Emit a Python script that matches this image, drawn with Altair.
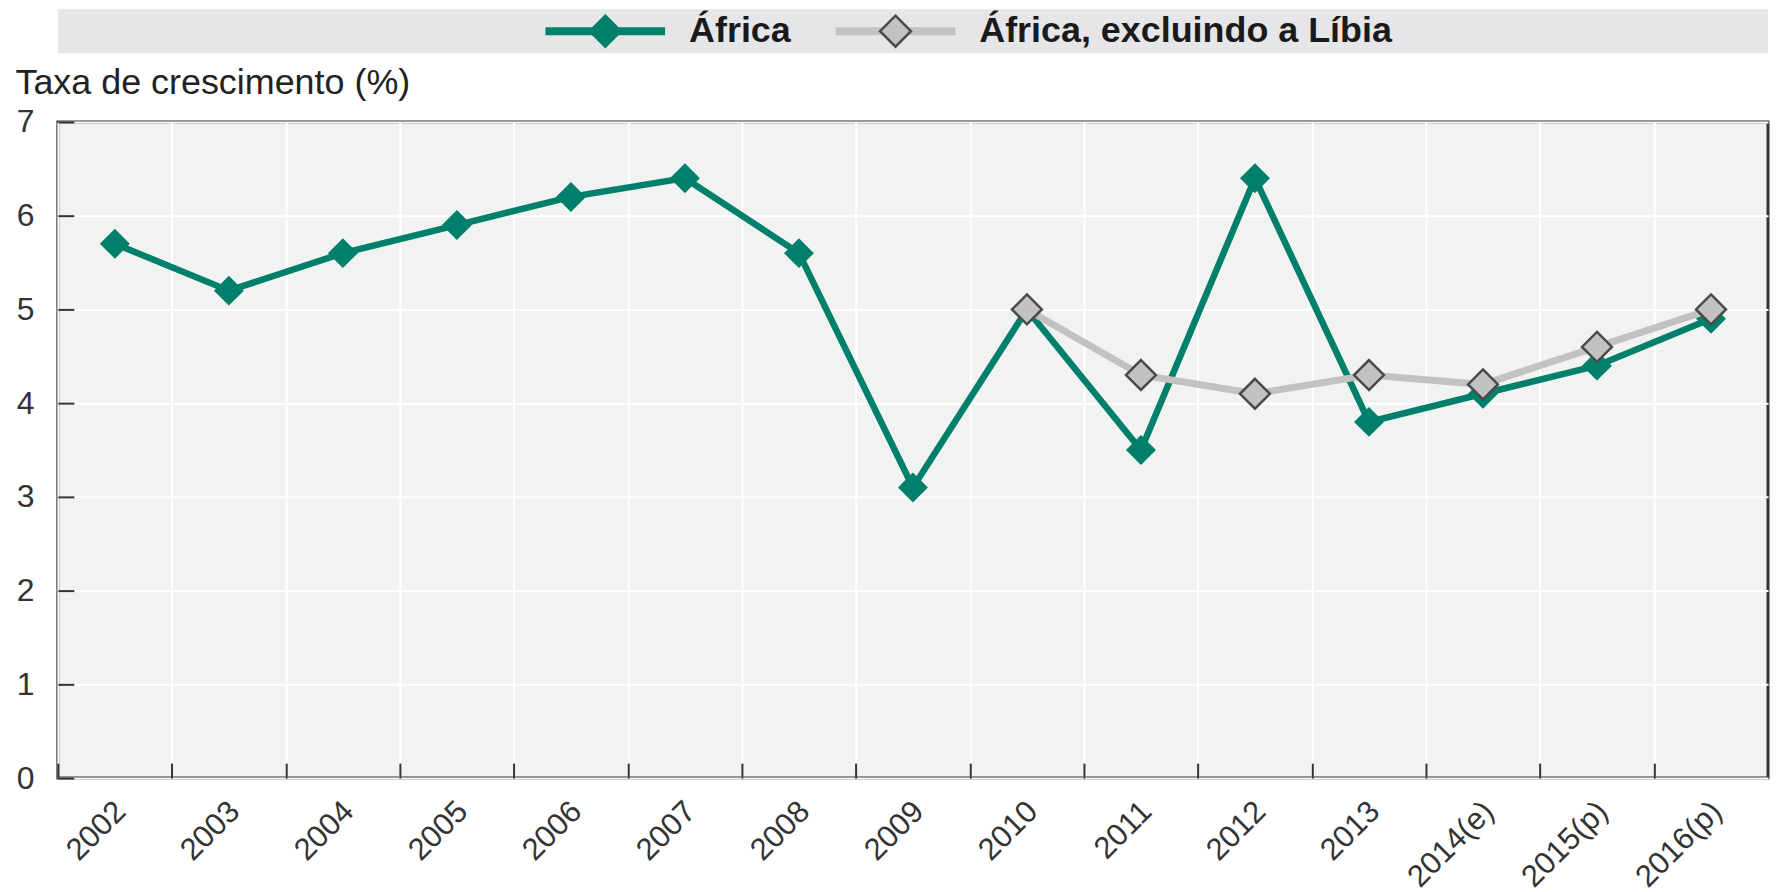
import altair as alt
import pandas as pd

years = ["2002", "2003", "2004", "2005", "2006", "2007", "2008", "2009",
         "2010", "2011", "2012", "2013", "2014(e)", "2015(p)", "2016(p)"]
africa = [5.7, 5.2, 5.6, 5.9, 6.2, 6.4, 5.6, 3.1, 5.0, 3.5, 6.4, 3.8, 4.1, 4.4, 4.9]
excl_years = ["2010", "2011", "2012", "2013", "2014(e)", "2015(p)", "2016(p)"]
excl = [5.0, 4.3, 4.1, 4.3, 4.2, 4.6, 5.0]
series = ["África", "África, excluindo a Líbia"]
fills = ["#00806a", "#c2c2c2"]
strokes = ["#00806a", "#4a4a4a"]
y_values = [0, 1, 2, 3, 4, 5, 6, 7]
y_title = "Taxa de crescimento (%)"

df = pd.concat([
    pd.DataFrame({"year": years, "value": africa, "series": series[0]}),
    pd.DataFrame({"year": excl_years, "value": excl, "series": series[1]}),
], ignore_index=True)
leg_df = pd.DataFrame({"series": series})

FONT = "Liberation Sans"
W, H = 1715, 658
BW = W / len(years)
DIAM = "M0,-1L1,0L0,1L-1,0Z"

xscale = alt.Scale(domain=years, type="point", padding=0.5)
yscale = alt.Scale(domain=[0, 7], nice=False)

x_main = alt.X("year:N", sort=years, scale=xscale, axis=alt.Axis(
    title=None, tickOffset=-BW / 2, labelOffset=BW / 2 - 5, ticks=False, domain=False,
    grid=True, gridColor="#ffffff", gridWidth=2, labelAngle=-45, labelAlign="right",
    labelBaseline="top", labelFontSize=31, labelFont=FONT, labelColor="#333333",
    labelPadding=18))
y_main = alt.Y("value:Q", scale=yscale, axis=alt.Axis(
    values=y_values, title=y_title, titleAngle=0, titleAlign="left",
    titleBaseline="alphabetic", titleX=-43, titleY=-29, titleFontSize=36,
    titleFont=FONT, titleFontWeight="normal", titleColor="#222222",
    labelFontSize=32, labelFont=FONT, labelColor="#333333", labelPadding=24,
    ticks=False, domain=False, grid=True, gridColor="#ffffff", gridWidth=2))

x_tick = alt.X("year:N", sort=years, scale=xscale, axis=alt.Axis(
    orient="top", offset=-H, labels=False, ticks=True, tickSize=15, tickWidth=2,
    tickColor="#333333", tickOffset=-BW / 2, grid=False, domain=False, title=None))
y_tick = alt.Y("value:Q", scale=yscale, axis=alt.Axis(
    orient="right", offset=-W, values=y_values, labels=False, ticks=True,
    tickSize=16, tickWidth=2, tickColor="#333333", grid=False, domain=False,
    title=None))

x_none = alt.X("year:N", sort=years, scale=xscale, axis=None)
y_none = alt.Y("value:Q", scale=yscale, axis=None)

base = alt.Chart(df)
af = base.transform_filter(alt.datum.series == series[0])
ex = base.transform_filter(alt.datum.series == series[1])

l1 = af.mark_line(color=fills[0], strokeWidth=6.5).encode(x=x_main, y=y_main)
l2 = af.mark_point(shape=DIAM, size=900, filled=True, opacity=1,
                   color=fills[0]).encode(x=x_tick, y=y_tick)
l3 = ex.mark_line(color=fills[1], strokeWidth=7).encode(x=x_none, y=y_none)
l4 = ex.mark_point(shape=DIAM, size=900, filled=True, opacity=1, fill=fills[1],
                   stroke=strokes[1], strokeWidth=2.5).encode(x=x_none, y=y_none)

main = alt.layer(l1, l2, l3, l4).resolve_axis(x="independent", y="independent").properties(
    width=W, height=H,
    view=alt.ViewBackground(fill="#f1f2f2", stroke="#333333", strokeWidth=3))

lx = alt.X("series:N", scale=alt.Scale(type="point", domain=series, range=[549, 840], padding=0),
           axis=None)
lcol = alt.Color("series:N", scale=alt.Scale(domain=series, range=fills), legend=None)
lstroke = alt.Stroke("series:N", scale=alt.Scale(domain=series, range=strokes), legend=None)
lb = alt.Chart(leg_df)
band = alt.layer(
    lb.mark_tick(orient="horizontal", thickness=8, size=120, opacity=1).encode(x=lx, color=lcol),
    lb.mark_point(shape=DIAM, size=961, filled=True, opacity=1, strokeWidth=2.5).encode(
        x=lx, fill=lcol, stroke=lstroke),
    lb.mark_text(align="left", baseline="middle", dx=84, fontSize=36, fontWeight="bold",
                 font=FONT, color="#1a1a1a").encode(x=lx, text="series:N"),
).properties(width=W, height=44,
             view=alt.ViewBackground(fill="#e6e6e8", stroke=None))

chart = alt.vconcat(band, main, spacing=9).properties(
    padding={"left": 5, "top": 0, "right": 0, "bottom": 0},
    background="#ffffff")

chart.save("out.html", embed_options={"renderer": "svg", "actions": False})
